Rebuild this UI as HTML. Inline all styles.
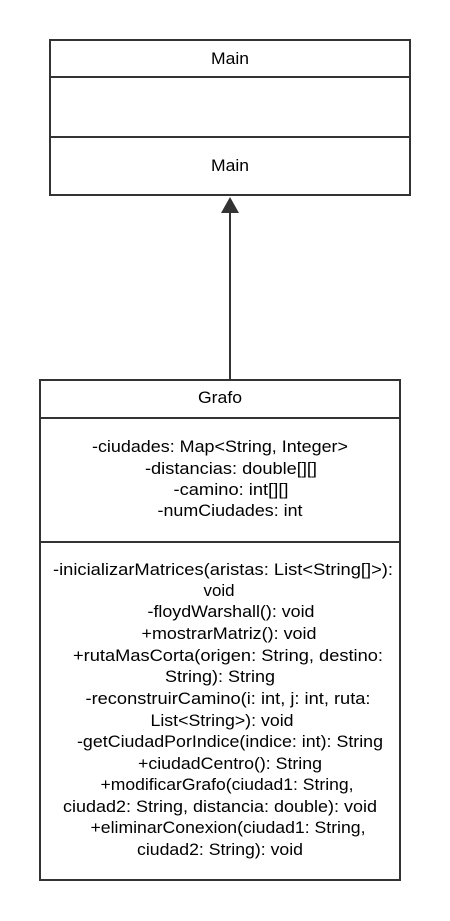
<!DOCTYPE html>
<html><head><meta charset="utf-8"><style>
html,body{margin:0;padding:0;background:#fff;}
svg{display:block;}
text{font-family:"Liberation Sans",Arial,sans-serif;font-size:17px;fill:#000;text-anchor:middle;}
</style></head><body>
<svg width="450" height="921" viewBox="0 0 450 921" xmlns="http://www.w3.org/2000/svg">
<g fill="none" stroke="#333" stroke-width="2">
<rect x="50" y="40" width="360" height="155"/>
<line x1="50" y1="77" x2="410" y2="77"/>
<line x1="50" y1="137" x2="410" y2="137"/>
<rect x="40" y="380" width="360" height="500"/>
<line x1="40" y1="418" x2="400" y2="418"/>
<line x1="40" y1="542" x2="400" y2="542"/>
<line x1="230" y1="212" x2="230" y2="380"/>
</g>
<polygon points="230,197 221,213 239,213" fill="#333"/>
<text x="230" y="64" textLength="38" lengthAdjust="spacingAndGlyphs">Main</text>
<text x="230" y="171" textLength="38" lengthAdjust="spacingAndGlyphs">Main</text>
<text x="220" y="403" textLength="44" lengthAdjust="spacingAndGlyphs">Grafo</text>
<text x="220" y="452" textLength="256" lengthAdjust="spacingAndGlyphs">-ciudades: Map&lt;String, Integer&gt;</text>
<text x="231" y="474" textLength="172" lengthAdjust="spacingAndGlyphs">-distancias: double[][]</text>
<text x="231" y="495" textLength="115" lengthAdjust="spacingAndGlyphs">-camino: int[][]</text>
<text x="230" y="516" textLength="145" lengthAdjust="spacingAndGlyphs">-numCiudades: int</text>
<text x="223" y="575" textLength="340" lengthAdjust="spacingAndGlyphs">-inicializarMatrices(aristas: List&lt;String[]&gt;):</text>
<text x="219" y="596" textLength="31" lengthAdjust="spacingAndGlyphs">void</text>
<text x="231" y="617" textLength="167" lengthAdjust="spacingAndGlyphs">-floydWarshall(): void</text>
<text x="229" y="639" textLength="175" lengthAdjust="spacingAndGlyphs">+mostrarMatriz(): void</text>
<text x="228" y="661" textLength="310" lengthAdjust="spacingAndGlyphs">+rutaMasCorta(origen: String, destino:</text>
<text x="220" y="682" textLength="110" lengthAdjust="spacingAndGlyphs">String): String</text>
<text x="228" y="704" textLength="285" lengthAdjust="spacingAndGlyphs">-reconstruirCamino(i: int, j: int, ruta:</text>
<text x="222" y="726" textLength="143" lengthAdjust="spacingAndGlyphs">List&lt;String&gt;): void</text>
<text x="230" y="747" textLength="306" lengthAdjust="spacingAndGlyphs">-getCiudadPorIndice(indice: int): String</text>
<text x="230" y="769" textLength="184" lengthAdjust="spacingAndGlyphs">+ciudadCentro(): String</text>
<text x="227" y="790" textLength="253" lengthAdjust="spacingAndGlyphs">+modificarGrafo(ciudad1: String,</text>
<text x="220" y="812" textLength="314" lengthAdjust="spacingAndGlyphs">ciudad2: String, distancia: double): void</text>
<text x="228" y="833" textLength="275" lengthAdjust="spacingAndGlyphs">+eliminarConexion(ciudad1: String,</text>
<text x="220" y="855" textLength="166" lengthAdjust="spacingAndGlyphs">ciudad2: String): void</text>
</svg>
</body></html>
